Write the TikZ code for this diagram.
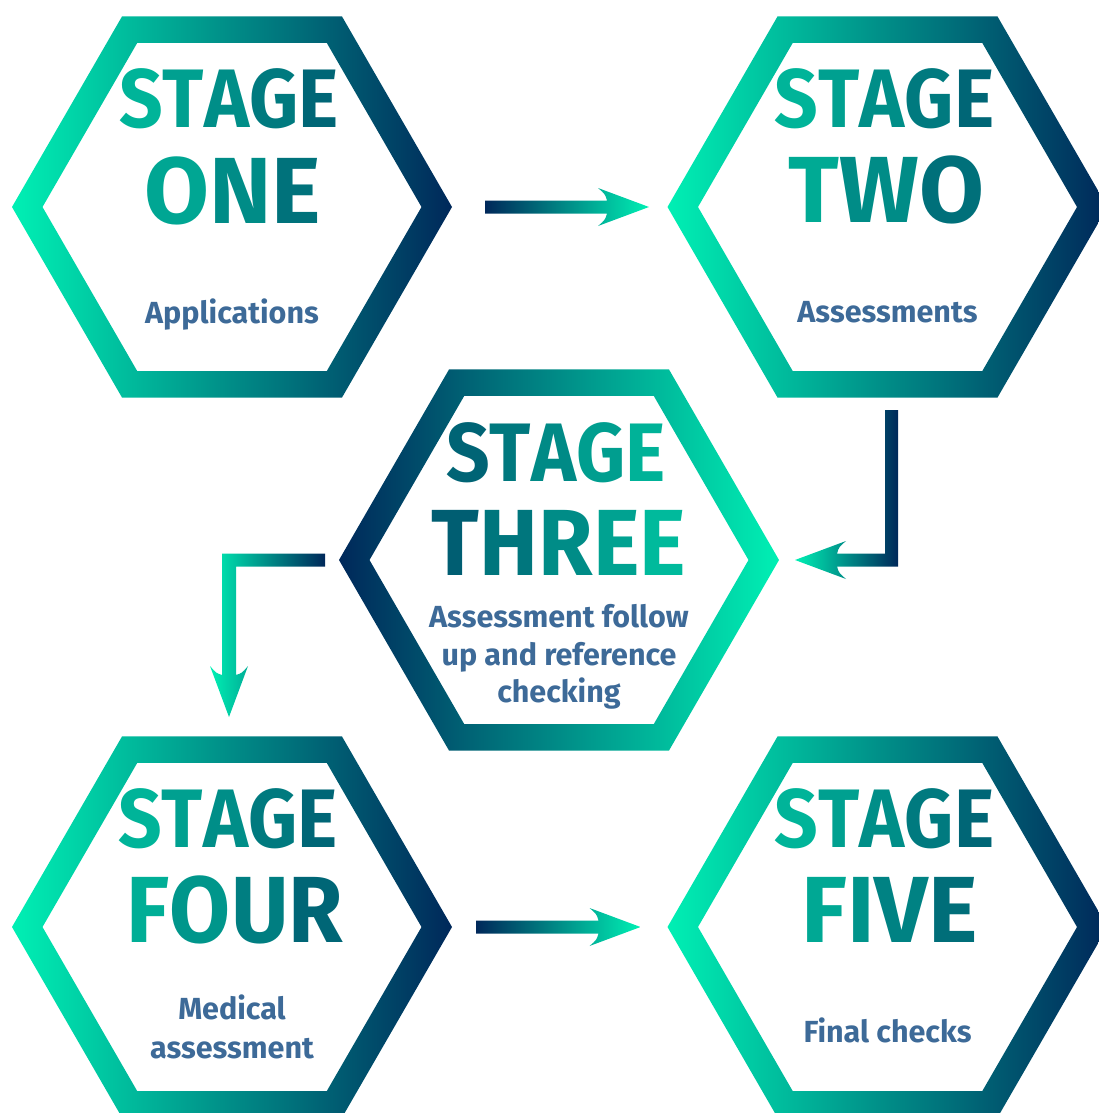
\documentclass[tikz,border=0pt]{standalone}
\usepackage{fontspec}
\setmainfont{Fira Sans}
\newfontfamily\stagefont[FakeStretch=0.92]{Fira Sans}
\newfontfamily\narrowfont[FakeStretch=0.94]{Fira Sans}
\usetikzlibrary{calc}
\definecolor{mintc}{HTML}{00F0B4}
\definecolor{navyc}{HTML}{00285A}
\definecolor{subc}{HTML}{3D6A98}
\newcommand\gl[2]{\textcolor{navyc!#1!mintc}{#2}}
\newcommand\hexring[3]{%
  \shade[left color=#2, right color=#3, even odd rule]
    ($(#1)+(0:220)$) -- ($(#1)+(60:220)$) -- ($(#1)+(120:220)$) --
    ($(#1)+(180:220)$) -- ($(#1)+(240:220)$) -- ($(#1)+(300:220)$) -- cycle
    ($(#1)+(0:189.5)$) -- ($(#1)+(60:189.5)$) -- ($(#1)+(120:189.5)$) --
    ($(#1)+(180:189.5)$) -- ($(#1)+(240:189.5)$) -- ($(#1)+(300:189.5)$) -- cycle;}
\newcommand\rarrow[2]{% start, tip (horizontal, pointing right)
  \shade[left color=navyc, right color=mintc]
    ($(#1)+(0,-6.5)$) -- ($(#2)+(-42,-6.5)$)
    .. controls ($(#2)+(-44,-13)$) .. ($(#2)+(-51,-19)$) -- (#2)
    -- ($(#2)+(-51,19)$) .. controls ($(#2)+(-44,13)$) .. ($(#2)+(-42,6.5)$)
    -- ($(#1)+(0,6.5)$) -- cycle;}
\begin{document}
\begin{tikzpicture}[x=1pt, y=-1pt,
  bigtxt/.style={anchor=base, inner sep=0pt, font=\stagefont\bfseries\fontsize{83}{83}\selectfont},
  hugetxt/.style={anchor=base, inner sep=0pt, font=\bfseries\fontsize{94}{94}\selectfont},
  hugenarrow/.style={anchor=base, inner sep=0pt, font=\narrowfont\bfseries\fontsize{94}{94}\selectfont},
  subtxt/.style={anchor=base, inner sep=0pt, text=subc, font=\bfseries\fontsize{30.5}{38}\selectfont}]
\useasboundingbox (0,0) rectangle (1099,1113);
\clip (0,0) rectangle (1099,1113);
% hexagon centres
\coordinate (h1) at (232,207);
\coordinate (h2) at (887.5,207);
\coordinate (h3) at (559,560);
\coordinate (h4) at (232,927);
\coordinate (h5) at (887.5,927);
% rings
\hexring{h1}{mintc}{navyc}
\hexring{h2}{mintc}{navyc}
\hexring{h3}{navyc}{mintc}
\hexring{h4}{mintc}{navyc}
\hexring{h5}{mintc}{navyc}
% texts stage one
\node[bigtxt] (t1a) at ($(h1)+(-3,-79)$) {\gl{30}{S}\gl{40}{T}\gl{49}{A}\gl{59}{G}\gl{69}{E}};
\node[hugetxt] (t1b) at ($(h1)+(1,16)$) {\gl{37}{O}\gl{50}{N}\gl{63}{E}};
\node[subtxt] (t1c) at ($(h1)+(0,116)$) {Applications};
% stage two
\node[bigtxt] (t2a) at ($(h2)+(-3,-79)$) {\gl{30}{S}\gl{40}{T}\gl{49}{A}\gl{59}{G}\gl{69}{E}};
\node[hugetxt] (t2b) at ($(h2)+(-1,15)$) {\gl{35}{T}\gl{50}{W}\gl{64}{O}};
\node[subtxt] (t2c) at ($(h2)+(0,115)$) {Assessments};
% stage three
\node[bigtxt] (t3a) at ($(h3)+(-3,-79)$) {\gl{70}{S}\gl{60}{T}\gl{51}{A}\gl{41}{G}\gl{31}{E}};
\node[hugenarrow] (t3b) at ($(h3)+(0,15)$) {\gl{73}{T}\gl{61}{H}\gl{50}{R}\gl{39}{E}\gl{27}{E}};
\node[subtxt] (t3c) at ($(h3)+(0,67)$) {Assessment follow};
\node[subtxt] (t3d) at ($(h3)+(0,105)$) {up and reference};
\node[subtxt] (t3e) at ($(h3)+(0,142)$) {checking};
% stage four
\node[bigtxt] (t4a) at ($(h4)+(-4,-80)$) {\gl{30}{S}\gl{40}{T}\gl{49}{A}\gl{59}{G}\gl{69}{E}};
\node[hugenarrow] (t4b) at ($(h4)+(3,15)$) {\gl{33}{F}\gl{45}{O}\gl{57}{U}\gl{69}{R}};
\node[subtxt] (t4c) at ($(h4)+(0,92)$) {Medical};
\node[subtxt] (t4d) at ($(h4)+(0,131)$) {assessment};
% stage five
\node[bigtxt] (t5a) at ($(h5)+(-3,-80)$) {\gl{30}{S}\gl{40}{T}\gl{49}{A}\gl{59}{G}\gl{69}{E}};
\node[hugetxt] (t5b) at ($(h5)+(2,15)$) {\gl{36}{F}\gl{46}{I}\gl{55}{V}\gl{65}{E}};
\node[subtxt] (t5c) at ($(h5)+(0,115)$) {Final checks};
% arrows
\coordinate (a1s) at ($(h1)+(253,0)$);
\coordinate (a1t) at ($(h2)+(-238.5,0)$);
\rarrow{a1s}{a1t}
\coordinate (a4s) at ($(h4)+(244,0)$);
\coordinate (a4t) at ($(h5)+(-247,0)$);
\rarrow{a4s}{a4t}
% arrow stage two -> three
\coordinate (a2s) at ($(h2)+(4,203)$);
\coordinate (a2c) at ($(h2)+(4,353)$);
\coordinate (a2t) at ($(h3)+(236,0)$);
\shade[left color=mintc, right color=navyc]
  ($(a2s)+(-6.5,0)$) -- ($(a2s)+(6.5,0)$) -- ($(a2c)+(6.5,6.5)$)
  -- ($(a2t)+(42,6.5)$) .. controls ($(a2t)+(44,13)$) .. ($(a2t)+(51,19)$)
  -- (a2t) -- ($(a2t)+(51,-19)$) .. controls ($(a2t)+(44,-13)$) .. ($(a2t)+(42,-6.5)$)
  -- ($(a2c)+(-6.5,-6.5)$) -- cycle;
% arrow stage three -> four
\coordinate (a3s) at ($(h3)+(-234,0)$);
\coordinate (a3c) at ($(h4)+(-3,-367)$);
\coordinate (a3t) at ($(h4)+(-3,-210)$);
\shade[left color=mintc, right color=navyc]
  ($(a3s)+(0,-6.5)$) -- ($(a3c)+(-7,-6.5)$)
  -- ($(a3t)+(-7,-42)$) .. controls ($(a3t)+(-13,-44)$) .. ($(a3t)+(-19,-51)$)
  -- (a3t) -- ($(a3t)+(19,-51)$) .. controls ($(a3t)+(13,-44)$) .. ($(a3t)+(7,-42)$)
  -- ($(a3c)+(7,6.5)$) -- ($(a3s)+(0,6.5)$) -- cycle;
\end{tikzpicture}
\end{document}
